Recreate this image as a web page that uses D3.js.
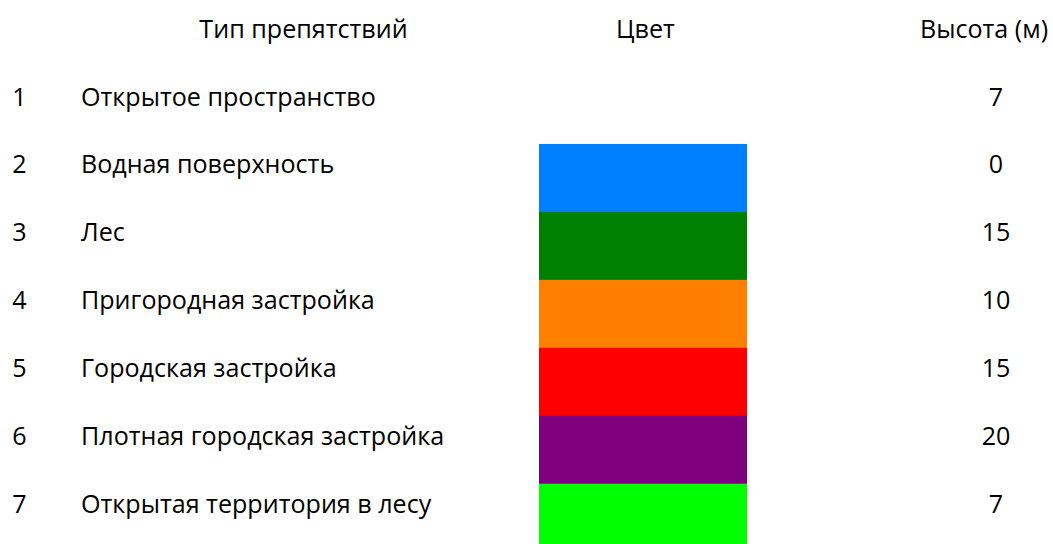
<!DOCTYPE html>
<html>
<head>
<meta charset="utf-8">
<script src="https://cdn.jsdelivr.net/npm/d3@7"></script>
<style>
  body { margin: 0; background: #fff; }
  text { font-family: "Open Sans", "Noto Sans", sans-serif; fill: #000; }
</style>
</head>
<body>
<div id="chart"></div>
<script>
var width = 1053, height = 544;

var headers = ["Тип препятствий", "Цвет", "Высота (м)"];
var ids = [1, 2, 3, 4, 5, 6, 7];
var names = ["Открытое пространство", "Водная поверхность", "Лес", "Пригородная застройка",
             "Городская застройка", "Плотная городская застройка", "Открытая территория в лесу"];
var colors = [null, "#007fff", "#007f00", "#ff7f00", "#ff0000", "#7f007f", "#00ff00"];
var heights = [7, 0, 15, 10, 15, 20, 7];

var rows = ids.map(function(id, i) {
    return { id: id, name: names[i], color: colors[i], h: heights[i] };
});

var svg = d3.select("#chart").append("svg")
    .attr("width", width)
    .attr("height", height);

// pick a font size so the first label is ~295px wide like the original
var probe = svg.append("text").style("font-size", "100px").text(names[0]);
var fontSize = Math.round(100 * 295 / probe.node().getComputedTextLength() * 10) / 10;
probe.remove();

// row bands
var y = d3.scaleBand().domain(ids).range([76, 76 + 7 * 67.95]).padding(0);

var cols = { num: 19.5, name: 81, colorX0: 539, colorX1: 747, hgt: 996 };
var headerX = [303.5, 645.5, 984];

svg.selectAll(".header")
    .data(headers)
    .enter().append("text")
    .attr("class", "header")
    .attr("x", function(d, i) { return headerX[i]; })
    .attr("y", 38)
    .attr("text-anchor", "middle")
    .style("font-size", fontSize + "px")
    .text(function(d) { return d; });

svg.selectAll(".swatch")
    .data(rows.filter(function(d) { return d.color; }))
    .enter().append("rect")
    .attr("class", "swatch")
    .attr("x", cols.colorX0)
    .attr("width", cols.colorX1 - cols.colorX0)
    .attr("y", function(d) { return y(d.id); })
    .attr("height", y.bandwidth() + 0.5)
    .attr("fill", function(d) { return d.color; });

var row = svg.selectAll(".row")
    .data(rows)
    .enter().append("g")
    .attr("class", "row")
    .attr("transform", function(d) { return "translate(0," + (y(d.id) + 29.5) + ")"; });

row.append("text")
    .attr("x", cols.num)
    .attr("text-anchor", "middle")
    .style("font-size", fontSize + "px")
    .text(function(d) { return d.id; });

row.append("text")
    .attr("x", cols.name)
    .style("font-size", fontSize + "px")
    .text(function(d) { return d.name; });

row.append("text")
    .attr("x", cols.hgt)
    .attr("text-anchor", "middle")
    .style("font-size", fontSize + "px")
    .text(function(d) { return d.h; });
</script>
</body>
</html>
